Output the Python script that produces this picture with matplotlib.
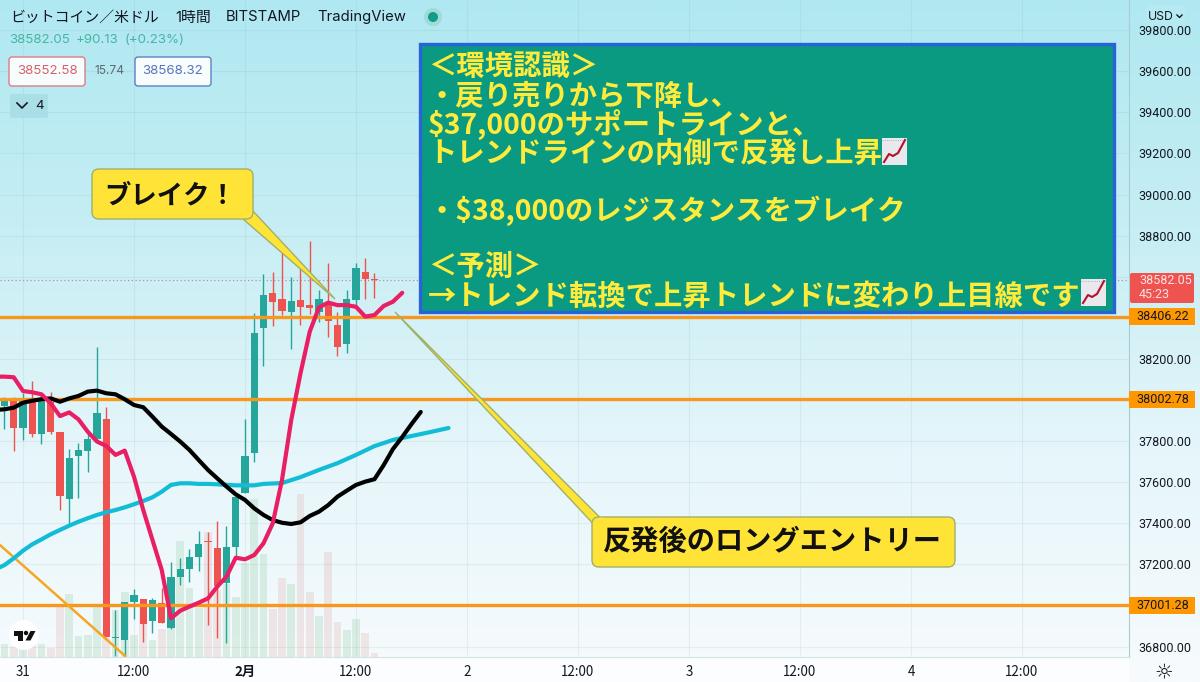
import numpy as np
import matplotlib
matplotlib.use("Agg")
import matplotlib.pyplot as plt
from matplotlib.colors import LinearSegmentedColormap
from matplotlib.patches import FancyBboxPatch, Polygon, Rectangle, Circle

plt.rcParams["font.family"] = ["Noto Sans CJK JP", "DejaVu Sans"]

# hourly candles, hour 0 = 31st 00:00
hours = list(range(-2, 39))
opens = [37971, 37997, 37862, 38012, 37835, 37992, 37845, 37519, 37728, 37752, 37809, 37910, 36841, 36833,
         37016, 37032, 36927, 37014, 36889, 37137, 37176, 37236, 37311, 37280, 37111, 37283, 37546, 37741,
         38349, 38519, 38492, 38427, 38487, 38462, 38430, 38479, 38365, 38274, 38487, 38623, 38584]
closes = [38000, 37862, 38000, 37833, 38008, 37845, 37533, 37720, 37759, 37811, 37939, 36846, 36843, 37019,
          37051, 36910, 37027, 36917, 37137, 37176, 37235, 37298, 37308, 37095, 37283, 37527, 37729, 38325,
          38511, 38475, 38435, 38482, 38451, 38446, 38490, 38383, 38260, 38490, 38644, 38587, 38582.05]
highs = [38017, 38017, 38033, 38094, 38033, 38041, 37845, 37760, 37790, 37846, 38258, 37968, 36978, 37019,
         37079, 37032, 37038, 37084, 37214, 37233, 37274, 37363, 37360, 37411, 37389, 37527, 37906, 38422,
         38613, 38621, 38743, 38597, 38644, 38774, 38535, 38668, 38430, 38535, 38665, 38689, 38620]
lows = [37858, 37752, 37806, 37822, 37785, 37835, 37465, 37400, 37522, 37648, 37806, 36846, 36755, 36755,
        36933, 36824, 36865, 36917, 36884, 37100, 37113, 37170, 36905, 36840, 36819, 37241, 37546, 37700,
        38167, 38360, 38414, 38248, 38363, 38417, 38381, 38308, 38216, 38230, 38462, 38492, 38495]
volumes = [40, 30, 30, 40, 40, 28, 150, 190, 62, 65, 150, 58, 140, 195, 65, 150, 50, 85, 128, 348, 208, 148,
           376, 200, 220, 180, 283, 473, 308, 143, 236, 218, 488, 195, 123, 316, 105, 80, 113, 73, 13]

pink_h = list(range(-3, 42))
pink = [38114, 38114, 38111, 38044, 38038, 38028, 37984, 37922, 37940, 37906, 37846, 37798, 37777, 37733, 37754,
        37627, 37465, 37319, 37173, 36938, 36975, 36995, 37014, 37035, 37092, 37141, 37233, 37225, 37246, 37303,
        37400, 37611, 37903, 38130, 38333, 38451, 38474, 38462, 38462, 38454, 38406, 38414, 38458, 38479, 38522]
black_h = list(range(-3, 44))
black = [37952, 37955, 37963, 37987, 37997, 38004, 38008, 37992, 38008, 38020, 38041, 38046, 38033, 38028, 38004,
         37976, 37965, 37919, 37871, 37835, 37798, 37757, 37708, 37660, 37619, 37579, 37541, 37514, 37473, 37441,
         37416, 37403, 37397, 37405, 37436, 37457, 37489, 37530, 37559, 37587, 37603, 37615, 37684, 37762, 37820,
         37883, 37942]
cyan_h = list(range(-3, 27)) + [28, 30, 32, 34, 36, 38, 40, 42, 44, 46]
cyan = [37176, 37197, 37230, 37267, 37298, 37322, 37347, 37368, 37389, 37408, 37425, 37441, 37454, 37465, 37478,
        37493, 37509, 37527, 37554, 37587, 37595, 37595, 37592, 37592, 37590, 37587, 37585, 37585, 37585, 37592,
        37596, 37625, 37660, 37693, 37733, 37776, 37806, 37825, 37844, 37864]

trend_h = [-2.5, 11.03]
trend_p = [37295, 36755]
levels = [38406.22, 38002.78, 37001.28]
last_close = 38582.05

price_ticks = list(range(36800, 40000, 200))
covered_ticks = [37000, 38000, 38400, 38600]  # hidden behind the price tags
time_ticks = [0, 12, 24, 36, 48, 60, 72, 84, 96, 108]
time_labels = ["31", "12:00", "2月", "12:00", "2", "12:00", "3", "12:00", "4", "12:00"]

GREEN = "#26a69a"
RED = "#ef5350"
ORANGE = "#f7981d"
YELLOW = "#ffe437"
TICKFONT = ["Roboto", "DejaVu Sans"]

fig = plt.figure(figsize=(12, 6.82), dpi=100)
W, H = 1200, 682

# background gradient
bg = fig.add_axes([0, 0, 1, 1], zorder=0)
cmap = LinearSegmentedColormap.from_list("bg", ["#b0e8f1", "#c6eef4", "#e6f6fa", "#f7fbfd"])
bg.imshow(np.linspace(0, 1, 256).reshape(-1, 1), aspect="auto", cmap=cmap, extent=[0, W, H, 0])
bg.add_patch(Rectangle((0, 657), 1129, 25, fc="#fbfdfe", ec="none"))
bg.axis("off")

rect = [0, (H - 657) / H, 1129 / W, 657 / H]

ax_vol = fig.add_axes(rect, zorder=1, facecolor="none")
vol_colors = ["#b4dcc2" if c >= o else "#e6c8c8" for o, c in zip(opens, closes)]
ax_vol.bar(hours, volumes, width=0.86, color=vol_colors, alpha=0.42)
ax_vol.set_xlim(-2.486, 119.57)
ax_vol.set_ylim(0, 1971)
ax_vol.axis("off")

ax = fig.add_axes(rect, zorder=2, facecolor="none")
ax.set_xlim(-2.486, 119.57)
ax.set_ylim(36749.7, 39946.8)
ax.grid(True, color="#7fa9b5", alpha=0.14, lw=0.8)
ax.set_axisbelow(True)

up = [c >= o for o, c in zip(opens, closes)]
colors = [GREEN if u else RED for u in up]
ax.vlines(hours, lows, highs, colors=colors, lw=1.0, zorder=2)
bottoms = [min(o, c) for o, c in zip(opens, closes)]
heights = [max(abs(c - o), 6) for o, c in zip(opens, closes)]
ax.bar(hours, heights, bottom=bottoms, width=0.76, color=colors, zorder=2.5)

for lv in levels:
    ax.axhline(lv, color=ORANGE, lw=2.4, zorder=3)
ax.axhline(last_close, color="#b98f98", lw=0.9, ls=(0, (1, 2)), zorder=1.5)
ax.plot(trend_h, trend_p, color="#f5a623", lw=1.8, zorder=3)
ax.plot(cyan_h, cyan, color="#12bcd6", lw=3.0, zorder=4, solid_capstyle="round")
ax.plot(black_h, black, color="#000000", lw=3.0, zorder=4.2, solid_capstyle="round")
ax.plot(pink_h, pink, color="#e91e63", lw=3.0, zorder=4.4, solid_capstyle="round")

ax.yaxis.tick_right()
ax.set_yticks(price_ticks)
ax.set_yticklabels(["" if p in covered_ticks else f"{p:.2f}" for p in price_ticks], fontsize=9,
                   color="#131722", family=TICKFONT)
ax.set_xticks(time_ticks)
ax.set_xticklabels(time_labels, fontsize=9.6, color="#131722")
ax.get_xticklabels()[2].set_fontweight("bold")
ax.tick_params(length=0, axis="y", pad=7)
ax.tick_params(length=0, axis="x", pad=6)
for s in ["top", "left"]:
    ax.spines[s].set_visible(False)
ax.spines["right"].set_color("#a9ccd4")
ax.spines["bottom"].set_color("#d3e2e6")
ax.spines["right"].set_linewidth(0.8)
ax.spines["bottom"].set_linewidth(0.8)

# price tags
tag_w = 66 / 1129
tag_h = 17 / 0.2055
for lv in levels:
    ax.add_patch(Rectangle((1, lv - tag_h / 2), tag_w, tag_h, transform=ax.get_yaxis_transform(),
                           fc="#ff9800", ec="none", clip_on=False, zorder=6))
    ax.annotate(f"{lv:.2f}", xy=(1, lv), xycoords=ax.get_yaxis_transform(), xytext=(24, 0),
                textcoords="offset points", ha="center", va="center", fontsize=9, color="#131722",
                family=TICKFONT, annotation_clip=False, zorder=7)

# px overlay for the annotations and header
ov = fig.add_axes([0, 0, 1, 1], zorder=5, facecolor="none")
ov.set_xlim(0, W)
ov.set_ylim(H, 0)
ov.axis("off")

ov.add_patch(FancyBboxPatch((1130, 273), 64, 30, boxstyle="round,pad=0,rounding_size=2", fc="#ef5350", ec="none"))
ov.text(1139, 281, f"{last_close:.2f}", color="#fbe4e4", fontsize=9, va="center", family=TICKFONT)
ov.text(1139, 295, "45:23", color="#fbe4e4", fontsize=9, va="center", family=TICKFONT)

# header
hdr = ["Inter", "Noto Sans CJK JP", "DejaVu Sans"]
ov.text(10, 18, "ビットコイン／米ドル", fontsize=10.7, color="#131722", va="center", family=hdr)
ov.text(175, 18, "1時間", fontsize=10.7, color="#131722", va="center", family=hdr)
ov.text(226, 17, "BITSTAMP", fontsize=10.7, color="#131722", va="center", family=hdr)
ov.text(317, 17, "TradingView", fontsize=10.7, color="#131722", va="center", family=hdr)
ov.add_patch(Circle((433, 17), 9, fc="#9fdcd8", ec="none"))
ov.add_patch(Circle((433, 17), 5, fc="#129a8a", ec="none"))
ov.text(9, 40, "38582.05", fontsize=9.6, color="#46b5a8", va="center", family=hdr)
ov.text(76, 40, "+90.13", fontsize=9.6, color="#46b5a8", va="center", family=hdr)
ov.text(125, 40, "(+0.23%)", fontsize=9.6, color="#46b5a8", va="center", family=hdr)

ov.add_patch(FancyBboxPatch((9, 57), 76, 29, boxstyle="round,pad=0,rounding_size=3", fc="#f7fcfd", ec="#e07a88", lw=1))
ov.text(47, 71.5, "38552.58", fontsize=9.6, color="#d9606c", ha="center", va="center", family=hdr)
ov.text(110, 71.5, "15.74", fontsize=8.6, color="#5d6b73", ha="center", va="center", family=hdr)
ov.add_patch(FancyBboxPatch((135, 57), 76, 29, boxstyle="round,pad=0,rounding_size=3", fc="#f7fcfd", ec="#5f7fc4", lw=1))
ov.text(173, 71.5, "38568.32", fontsize=9.6, color="#5a73bd", ha="center", va="center", family=hdr)
ov.add_patch(FancyBboxPatch((10, 94), 38, 24, boxstyle="round,pad=0,rounding_size=2", fc="#aadfe8", ec="none"))
ov.plot([17, 22, 27], [103, 108, 103], color="#131722", lw=1.2)
ov.text(39, 106, "4", fontsize=9.6, color="#131722", ha="center", va="center", family=hdr)

ov.add_patch(FancyBboxPatch((1146, 5), 39, 21, boxstyle="round,pad=0,rounding_size=2", fc="#b6eaf2", ec="none"))
ov.text(1148, 17, "USD", fontsize=8.8, color="#131722", va="center", family=hdr)
ov.plot([1177, 1179.5, 1182], [15, 17.5, 15], color="#131722", lw=1)
ov.text(1164, 672, "☼", fontsize=15, color="#131722", ha="center", va="center", family=["DejaVu Sans"])

# TV logo
ov.add_patch(Circle((24, 635), 15, fc="white", ec="none"))
ov.add_patch(Rectangle((13.5, 631), 9, 4.5, fc="#111111", ec="none"))
ov.add_patch(Rectangle((18, 631), 4.5, 10, fc="#111111", ec="none"))
ov.add_patch(Circle((26, 633), 2.2, fc="#111111", ec="none"))
ov.add_patch(Polygon([(30.5, 631), (35.5, 631), (30.5, 640.5), (25.5, 640.5)], fc="#111111", ec="none"))

# callouts
def callout(x0, y0, x1, y1, tail):
    ov.add_patch(Polygon(tail, fc=YELLOW, ec="#9fb06a", lw=1))
    ov.add_patch(FancyBboxPatch((x0, y0), x1 - x0, y1 - y0, boxstyle="round,pad=0,rounding_size=7",
                                fc=YELLOW, ec="#9fb06a", lw=1))
    # cover the join between box and tail
    ov.add_patch(Polygon(tail[:1] + tail[-1:] + [((x0 + x1) / 2, (y0 + y1) / 2)], fc=YELLOW, ec="none"))

callout(92, 169, 253, 219, [(242.5, 218.5), (335, 299), (252.5, 210.5)])
ov.text(104, 196, "ブレイク！", fontsize=19, fontweight="bold", color="#111111", va="center")
callout(592, 517, 955, 567, [(592.5, 523), (395, 312), (600, 517.5)])
ov.text(603, 542, "反発後のロングエントリー", fontsize=20.3, fontweight="bold", color="#111111", va="center")

# info box
ov.add_patch(Rectangle((420, 44), 694, 268, fc="#0a9a82", ec="#2a62d9", lw=2.4))
info_lines = [(428, 67, "＜環境認識＞"), (428, 97, "・戻り売りから下降し、"), (428, 125, "$37,000のサポートラインと、"),
              (428, 154, "トレンドラインの内側で反発し上昇"), (428, 211, "・$38,000のレジスタンスをブレイク"),
              (428, 267, "＜予測＞"), (428, 297, "→トレンド転換で上昇トレンドに変わり上目線です")]
for x, y, s in info_lines:
    ov.text(x, y, s, fontsize=20.4, fontweight="bold", color="#ffeb3b", va="center",
            family=["Noto Sans CJK JP", "DejaVu Sans"])

def chart_icon(x, y):
    ov.add_patch(Rectangle((x, y), 25, 27, fc="#e9e8ec", ec="none"))
    ov.plot([x, x + 25], [y + 2, y + 2], color="#9a9aa0", lw=0.6, ls=":")
    ov.plot([x + 2, x + 7, x + 11, x + 16, x + 23], [y + 24, y + 16, y + 18, y + 15, y + 2], color="#b3122a", lw=1.5)

chart_icon(882, 138)
chart_icon(1081, 279)

fig.savefig("out.png", dpi=100)
